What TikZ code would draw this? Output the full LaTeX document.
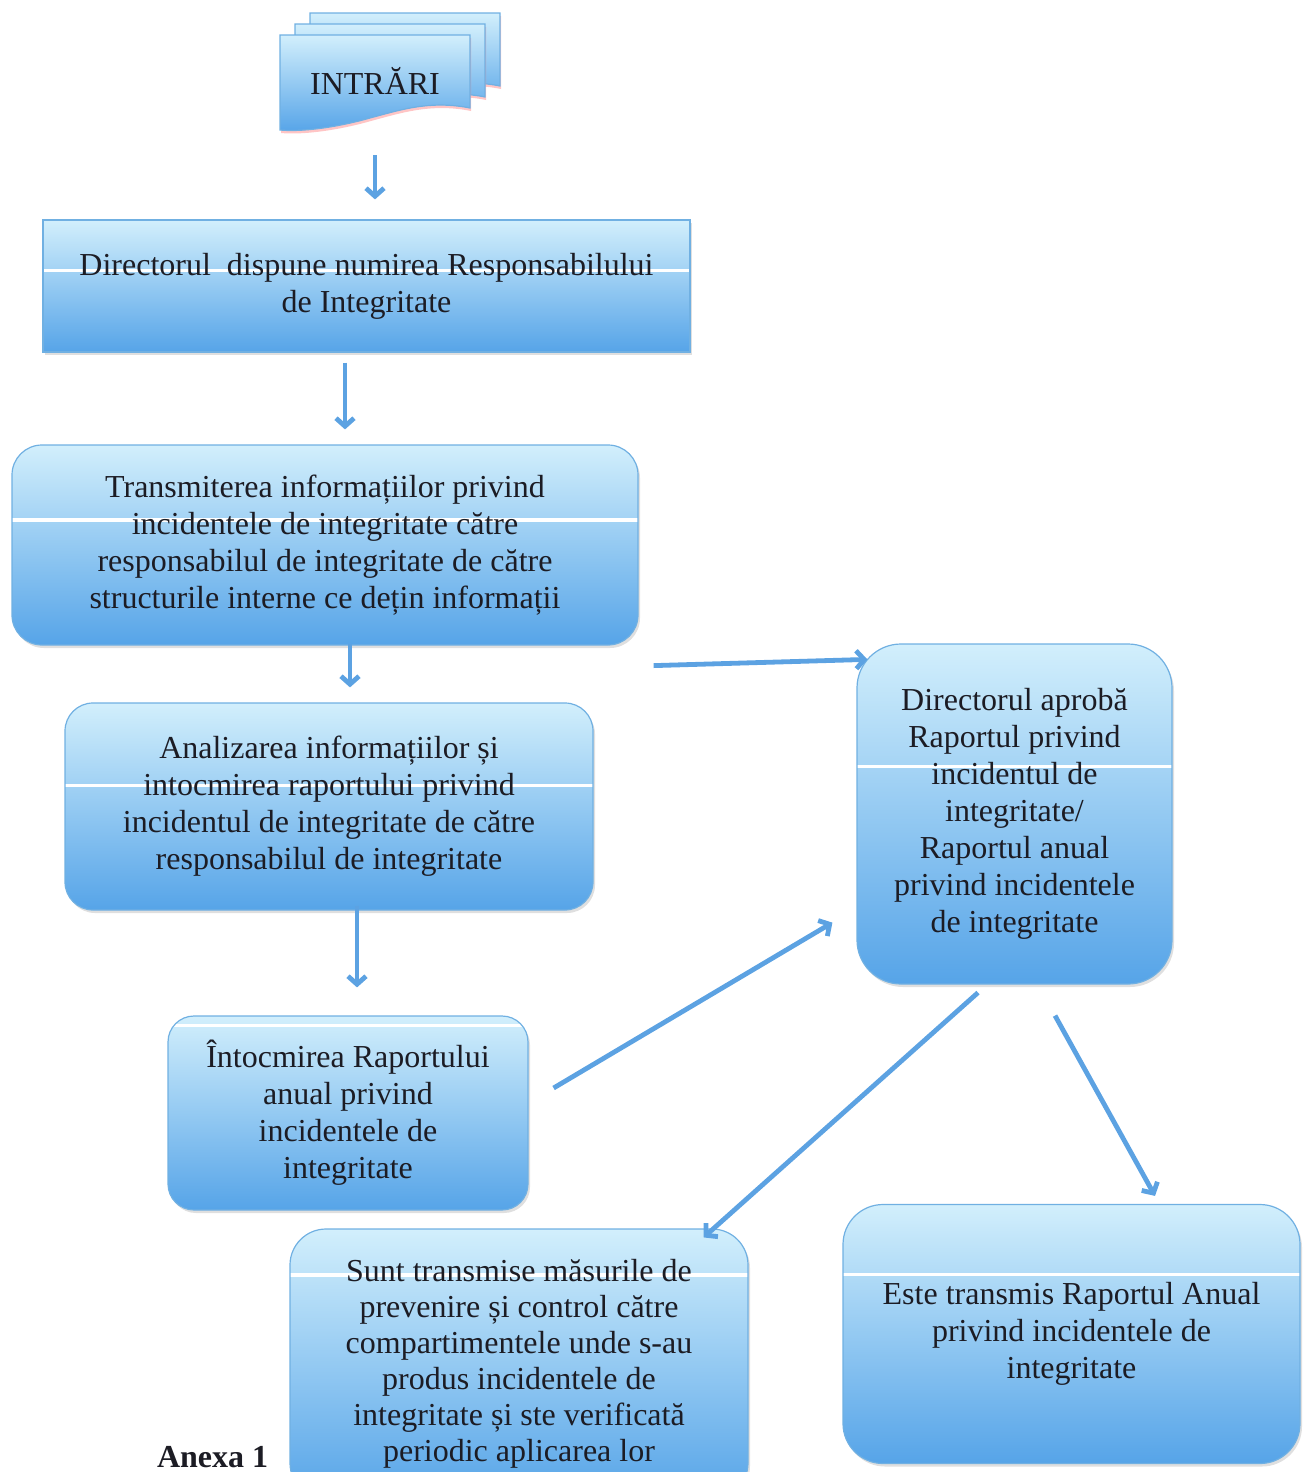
\documentclass[tikz,border=0pt]{standalone}
\usepackage{fontspec}
\setmainfont{Liberation Serif}
\usetikzlibrary{arrows.meta, calc, positioning, shadows}

\definecolor{boxtop}{RGB}{210,239,252}
\definecolor{boxbot}{RGB}{86,164,232}
\definecolor{boxline}{RGB}{112,176,226}
\definecolor{flowblue}{RGB}{92,162,226}
\definecolor{inktext}{RGB}{28,28,36}

\tikzset{
  stepbox/.style={draw=boxline, line width=0.6pt, top color=boxtop, bottom color=boxbot,
    align=center, text=inktext, font=\fontsize{16}{18.5}\selectfont,
    drop shadow={opacity=0.25, shadow xshift=1pt, shadow yshift=-1.5pt}},
  shine/.style={path picture={
    \draw[white, line width=1.6pt]
      ($(path picture bounding box.north west)!#1!(path picture bounding box.south west)$) --
      ($(path picture bounding box.north east)!#1!(path picture bounding box.south east)$);}},
  docshape/.style={draw=boxline, line width=0.6pt, top color=boxtop, bottom color=boxbot,
    drop shadow={fill=red!45, opacity=0.5, shadow xshift=0.5pt, shadow yshift=-1.5pt}},
  flow/.style={draw=flowblue, line width=2.4pt, -{Straight Barb[length=4pt,width=9pt]}},
}

\begin{document}
\begin{tikzpicture}[x=0.5pt, y=-0.5pt]
  \useasboundingbox (0,0) rectangle (1308,1472);

  % INTRARI
  \foreach \dx/\dy in {30/-22, 15/-11, 0/0} {
    \path[docshape, shift={(\dx,\dy)}] (280,35) -- (470,35) -- (470,108)
      .. controls (430,100) and (400,110) .. (370,118)
      .. controls (335,128) and (300,132) .. (280,130) -- cycle;
  }
  \node[text=inktext, font=\fontsize{16}{18.5}\selectfont,
        minimum width=95pt, minimum height=54pt] (in) at (375,81) {INTRĂRI};

  % boxes
  \node[stepbox, shine=0.38, minimum width=323.5pt, minimum height=66pt] (dir) at (366.5,286)
    {Directorul\ \ dispune numirea Responsabilului\\de Integritate};
  \node[stepbox, shine=0.375, rounded corners=15pt, minimum width=313pt, minimum height=100pt] (trans) at (325,545)
    {Transmiterea informațiilor privind\\incidentele de integritate către\\responsabilul de integritate de către\\structurile interne ce dețin informații};
  \node[stepbox, shine=0.40, rounded corners=14pt, minimum width=264pt, minimum height=103.5pt] (anal) at (329,806.5)
    {Analizarea informațiilor și\\intocmirea raportului privind\\incidentul de integritate de către\\responsabilul de integritate};
  \node[stepbox, shine=0.05, rounded corners=13pt, minimum width=180pt, minimum height=97pt] (rap) at (348,1113)
    {Întocmirea Raportului\\anual privind\\incidentele de\\integritate};
  \node[stepbox, shine=0.36, rounded corners=22pt, minimum width=157.5pt, minimum height=170pt] (dirap) at (1014.5,814)
    {Directorul aprobă\\Raportul privind\\incidentul de\\integritate/\\Raportul anual\\privind incidentele\\de integritate};
  \node[stepbox, shine=0.17, rounded corners=18pt, minimum width=229pt, minimum height=135pt,
        font=\fontsize{16}{18}\selectfont] (masuri) at (519,1364)
    {Sunt transmise măsurile de\\prevenire și control către\\compartimentele unde s-au\\produs incidentele de\\integritate și ste verificată\\periodic aplicarea lor};
  \node[stepbox, shine=0.27, rounded corners=20pt, minimum width=228.5pt, minimum height=129.5pt] (tran) at (1071.5,1334)
    {Este transmis Raportul Anual\\privind incidentele de\\integritate};

  \node[anchor=base west, text=inktext, font=\fontsize{16}{18.5}\selectfont\bfseries] (anexa) at (150,1467) {Anexa 1};

  % arrows
  \draw[flow, shorten <=10pt, shorten >=10pt] (in.south) -- (in.south |- dir.north);
  \draw[flow, shorten <=5pt, shorten >=7.5pt] ($(dir.south)+(-21.5,0)$) -- ($(dir.south |- trans.north)+(-21.5,0)$);
  \draw[flow, shorten <=-1pt, shorten >=7.5pt] ($(trans.south)+(25,0)$) -- ($(trans.south |- anal.north)+(25,0)$);
  \draw[flow, shorten >=14pt] ($(anal.south)+(28,-5)$) -- ($(anal.south |- rap.north)+(28,0)$);
  \draw[flow] ($(trans.south east)+(15,20)$) -- ($(dirap.north west)+(11,16)$);
  \draw[flow] ($(rap.east)+(25,-25)$) -- ($(dirap.south west)+(-24,-62)$);
  \draw[flow] ($(dirap.south)+(-36.5,8)$) -- ($(masuri.north east)+(-45,9)$);
  \draw[flow] ($(dirap.south)+(40.5,31)$) -- ($(tran.north)+(83.5,-8)$);
\end{tikzpicture}
\end{document}
